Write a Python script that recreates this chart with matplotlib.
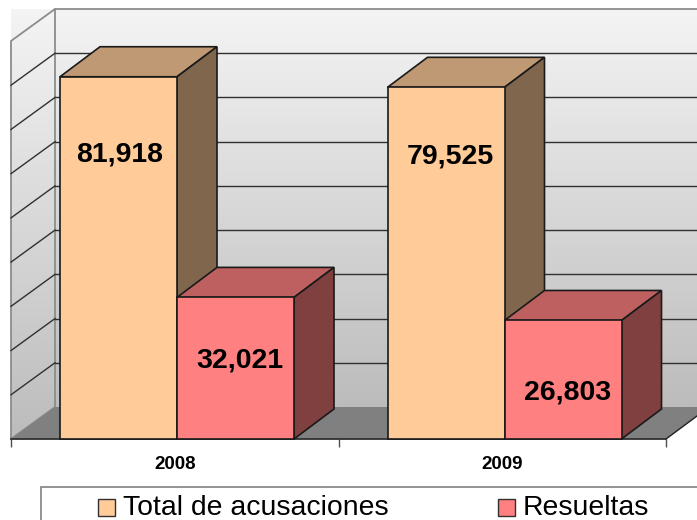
import numpy as np
import matplotlib
matplotlib.use("Agg")
import matplotlib.pyplot as plt
from matplotlib.patches import Polygon, Rectangle
from matplotlib.colors import LinearSegmentedColormap

plt.rcParams['font.family'] = ['Liberation Sans', 'DejaVu Sans']

years = ["2008", "2009"]
series_names = ["Total de acusaciones", "Resueltas"]
total = [81918, 79525]
resueltas = [32021, 26803]
grid_values = [10000, 20000, 30000, 40000, 50000, 60000, 70000, 80000, 90000]

W, H = 697, 520
fig = plt.figure(figsize=(W / 100, H / 100), dpi=100, facecolor="white")
# Axes = front plane of the 3D box (pixels: x 11..666, y 439..41)
L, R, B, T = 11, 666, 439, 41
ax = fig.add_axes([L / W, 1 - B / H, (R - L) / W, (B - T) / H])
ax.set_xlim(0, 2)
ax.set_ylim(0, 90000)
ax.patch.set_visible(False)
for s in ax.spines.values():
    s.set_visible(False)

ux = 2 / (R - L)          # data per pixel, x
uy = 90000 / (B - T)      # data per pixel, y

def depth(dpx, dpy):
    return dpx * ux, dpy * uy

wall = LinearSegmentedColormap.from_list("w", ["#f4f4f4", "#bcbcbc"])
grad = np.linspace(0, 1, 256).reshape(-1, 1)
WX, WY = depth(44, 32)
xmax = (W - L) * ux

# back wall
im = ax.imshow(grad, extent=(WX, xmax, WY, 90000 + WY), origin="upper", cmap=wall,
               aspect="auto", zorder=1, clip_on=False, vmin=0, vmax=1)
# left wall
imL = ax.imshow(grad, extent=(0, WX, 0, 90000 + WY), origin="upper", cmap=wall,
                aspect="auto", zorder=1, clip_on=False, vmin=0, vmax=1)
left_poly = Polygon([(0, 0), (WX, WY), (WX, 90000 + WY), (0, 90000)], closed=True,
                    transform=ax.transData, fc="none", ec="#8c8c8c", lw=1.3, zorder=2, clip_on=False)
ax.add_patch(left_poly)
imL.set_clip_path(left_poly)
ax.set_xlim(0, 2)
ax.set_ylim(0, 90000)

# floor
ax.add_patch(Polygon([(0, 0), (WX, WY), (xmax, WY), (xmax, depth(0, 23)[1]), (2, 0)], closed=True,
                     fc="#808080", ec="none", zorder=2, clip_on=False))
ax.plot([2, xmax], [0, depth(0, 23)[1]], color="#202020", lw=1, zorder=2.5, clip_on=False)

# top edge of back wall and gridlines
ax.plot([WX, xmax], [90000 + WY] * 2, color="#8c8c8c", lw=1.3, zorder=2, clip_on=False)
for g in grid_values:
    if g != 90000:
        ax.plot([0, WX], [g, g + WY], color="#303030", lw=1, zorder=2, clip_on=False)
        ax.plot([WX, xmax], [g + WY, g + WY], color="#303030", lw=1, zorder=2, clip_on=False)

# baseline
ax.plot([0, 2], [0, 0], color="#303030", lw=1.3, zorder=3, clip_on=False)

# bars
bw = 117 * ux
gap_left = 49 * ux
DX, DY = depth(40, 30)
front = ["#FFCC99", "#FF8080"]
topc = ["#BF9973", "#BF6060"]
sidec = ["#80664D", "#804040"]
edge = "#1a1a1a"
for i in range(2):
    x0 = i + gap_left
    for j, vals in enumerate([total, resueltas]):
        v = vals[i]
        xa = x0 + j * bw
        xb = xa + bw
        z = 5 + j + i * 3
        ax.bar(xa, v, bw, align="edge", color=front[j], edgecolor=edge, lw=1.2, zorder=z + .2, clip_on=False)
        ax.add_patch(Polygon([(xa, v), (xa + DX, v + DY), (xb + DX, v + DY), (xb, v)], closed=True,
                             fc=topc[j], ec=edge, lw=1.2, zorder=z, clip_on=False))
        ax.add_patch(Polygon([(xb, 0), (xb + DX, DY), (xb + DX, v + DY), (xb, v)], closed=True,
                             fc=sidec[j], ec=edge, lw=1.2, zorder=z, clip_on=False))

# value labels (pixels offsets expressed in data)
label_pos = [[(120, 154), (240, 360)], [(450, 156), (568, 392)]]
for i in range(2):
    for j, vals in enumerate([total, resueltas]):
        px, py = label_pos[i][j]
        ax.text((px - L) * ux, (B - py) * uy, f"{vals[i]:,}", ha="center", va="center",
                fontsize=20.5, fontweight="bold", color="black", zorder=20, clip_on=False)

# category axis
ax.set_xticks([0, 1, 2])
ax.set_xticklabels([])
ax.set_xticks([0.5, 1.5], minor=True)
ax.set_xticklabels(years, minor=True, fontsize=13.5, fontweight="bold")
ax.tick_params(axis="x", which="major", length=5.5, width=1, color="#505050")
ax.tick_params(axis="x", which="minor", length=0, pad=12.5)
ax.set_yticks([])

# legend box and entries, in figure pixels
def fx(p): return p / W
def fy(p): return 1 - p / H
fig.add_artist(Rectangle((fx(41), fy(520 + 10)), (720 - 41) / W, (530 - 486.5) / H,
                         transform=fig.transFigure, fc="white", ec="#808080", lw=1.2))
for name, c, sx, tx in zip(series_names, front, [98, 498], [123, 523]):
    fig.add_artist(Rectangle((fx(sx), fy(516)), 17 / W, 17 / H, transform=fig.transFigure,
                             fc=c, ec="#303030", lw=1))
    fig.text(fx(tx), fy(508), name, fontsize=20.4, color="black", ha="left", va="center")

fig.savefig("out.png", dpi=100)
